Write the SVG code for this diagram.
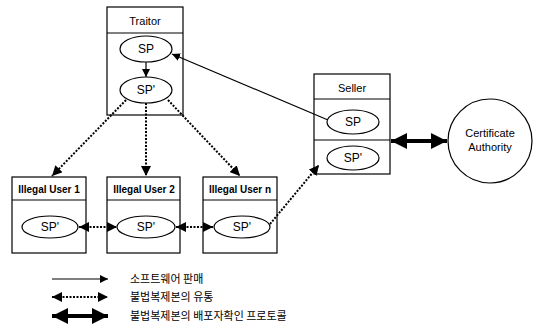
<svg xmlns="http://www.w3.org/2000/svg" width="540" height="331" viewBox="0 0 540 331">
<style>
.box{fill:#fff;stroke:#000;stroke-width:1.2}
.el{fill:#fff;stroke:#000;stroke-width:1.2}
.t{font-family:"Liberation Sans",Arial,sans-serif;font-size:11px;text-anchor:middle;fill:#000}
.h{font-family:"Liberation Sans",Arial,sans-serif;font-size:10px;font-weight:bold;text-anchor:middle;fill:#000}
.sp{font-family:"Liberation Sans",Arial,sans-serif;font-size:12px;text-anchor:middle;fill:#000}
.k{font-family:"Noto Sans CJK KR",sans-serif;font-size:11px;fill:#000}
.solid{stroke:#000;stroke-width:1.2;fill:none}
.dot{stroke:#000;stroke-width:2;stroke-dasharray:2 1.5;fill:none}
.thick{stroke:#000;stroke-width:4;fill:none}
</style>
<defs>
<marker id="ah" viewBox="0 0 10 10" refX="10" refY="5" markerWidth="8" markerHeight="8" markerUnits="userSpaceOnUse" orient="auto-start-reverse"><path d="M0,0 L10,5 L0,10 z" fill="#000"/></marker>
<marker id="ahd" viewBox="0 0 10 10" refX="10" refY="5" markerWidth="10" markerHeight="10" markerUnits="userSpaceOnUse" orient="auto-start-reverse"><path d="M0,0 L10,5 L0,10 z" fill="#000"/></marker>
<marker id="aht" viewBox="0 0 10 10" refX="10" refY="5" markerWidth="16" markerHeight="16" markerUnits="userSpaceOnUse" orient="auto-start-reverse"><path d="M0,0 L10,5 L0,10 z" fill="#000"/></marker>
</defs>
<rect width="540" height="331" fill="#fff"/>

<g id="traitor">
<rect class="box" x="107" y="7" width="76" height="108"/>
<line class="solid" x1="107" y1="33" x2="183" y2="33"/>
<text class="t" x="145" y="25">Traitor</text>
<ellipse class="el" cx="146" cy="49" rx="26" ry="13"/>
<text class="sp" x="146" y="53">SP</text>
<ellipse class="el" cx="146" cy="90" rx="26" ry="13"/>
<text class="sp" x="146" y="94">SP'</text>
</g>

<g id="seller">
<rect class="box" x="314" y="74" width="76" height="100"/>
<line class="solid" x1="314" y1="99" x2="390" y2="99"/>
<line class="solid" x1="314" y1="140" x2="390" y2="140"/>
<text class="t" x="352" y="92">Seller</text>
<ellipse class="el" cx="353" cy="122" rx="26" ry="12"/>
<text class="sp" x="353" y="126">SP</text>
<ellipse class="el" cx="353" cy="158" rx="26" ry="12"/>
<text class="sp" x="353" y="162">SP'</text>
</g>

<g id="ca">
<circle class="el" cx="490" cy="141" r="42"/>
<text class="t" x="490" y="137">Certificate</text>
<text class="t" x="490" y="151">Authority</text>
</g>

<g id="user1">
<rect class="box" x="12" y="177" width="74" height="76"/>
<line class="solid" x1="12" y1="200" x2="86" y2="200"/>
<text class="h" x="49" y="193">Illegal User 1</text>
<ellipse class="el" cx="50" cy="227" rx="28" ry="11"/>
<text class="sp" x="50" y="231">SP'</text>
</g>

<g id="user2">
<rect class="box" x="107" y="177" width="73" height="76"/>
<line class="solid" x1="107" y1="200" x2="180" y2="200"/>
<text class="h" x="144" y="193">Illegal User 2</text>
<ellipse class="el" cx="146" cy="227" rx="29" ry="11"/>
<text class="sp" x="146" y="231">SP'</text>
</g>

<g id="usern">
<rect class="box" x="203" y="177" width="74" height="76"/>
<line class="solid" x1="203" y1="200" x2="277" y2="200"/>
<text class="h" x="240" y="193">Illegal User n</text>
<ellipse class="el" cx="242" cy="227" rx="28" ry="11"/>
<text class="sp" x="242" y="231">SP'</text>
</g>

<g id="connectors">
<line class="solid" x1="146" y1="62" x2="146" y2="77" marker-end="url(#ah)"/>
<line class="solid" x1="328" y1="120" x2="172" y2="54" marker-end="url(#ah)"/>
<line class="dot" x1="126" y1="100" x2="52" y2="176" marker-end="url(#ahd)"/>
<line class="dot" x1="146" y1="103" x2="146" y2="176" marker-end="url(#ahd)"/>
<line class="dot" x1="168" y1="100" x2="240" y2="176" marker-end="url(#ahd)"/>
<line class="dot" x1="79" y1="227" x2="117" y2="227" marker-start="url(#ahd)" marker-end="url(#ahd)"/>
<line class="dot" x1="176" y1="227" x2="213" y2="227" marker-start="url(#ahd)" marker-end="url(#ahd)"/>
<line class="dot" x1="270" y1="224" x2="319" y2="165" marker-end="url(#ahd)"/>
<line class="thick" x1="391" y1="141" x2="447" y2="141" marker-start="url(#aht)" marker-end="url(#aht)"/>
</g>

<g id="legend">
<line class="solid" x1="52" y1="279" x2="108" y2="279" marker-end="url(#ah)"/>
<line class="dot" x1="52" y1="297" x2="108" y2="297" marker-start="url(#ahd)" marker-end="url(#ahd)"/>
<line class="thick" x1="52" y1="316" x2="108" y2="316" marker-start="url(#aht)" marker-end="url(#aht)"/>
<text class="k" x="130" y="283">소프트웨어 판매</text>
<text class="k" x="130" y="301">불법복제본의 유통</text>
<text class="k" x="130" y="320">불법복제본의 배포자확인 프로토콜</text>
</g>
</svg>
